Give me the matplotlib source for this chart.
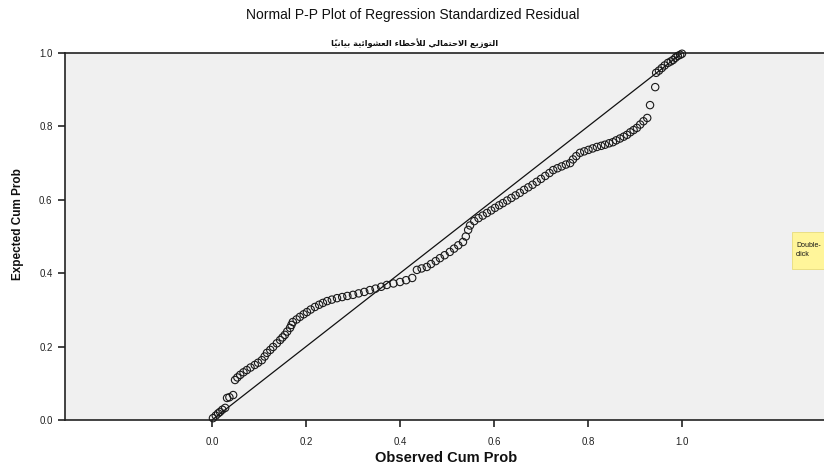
import matplotlib
matplotlib.use("Agg")
import matplotlib.pyplot as plt
from matplotlib.patches import Rectangle

# ---------------- data ----------------
title = "Normal P-P Plot of Regression Standardized Residual"
subtitle = "التوزيع الاحتمالي للأخطاء العشوائية بيانياً"
x_label = "Observed Cum Prob"
y_label = "Expected Cum Prob"
tick_values = [0.0, 0.2, 0.4, 0.6, 0.8, 1.0]
tick_labels = ["0.0", "0.2", "0.4", "0.6", "0.8", "1.0"]
ref_line_x = [0.0, 1.0]
ref_line_y = [0.0, 1.0]
note_text = "Double-\nclick"

observed = [0.002, 0.008, 0.013, 0.017, 0.022, 0.028, 0.032, 0.037, 0.045,
            0.049, 0.054, 0.060, 0.067, 0.074, 0.082, 0.091, 0.098, 0.106,
            0.112, 0.117, 0.124, 0.130, 0.138, 0.145, 0.150, 0.155, 0.160,
            0.166, 0.169, 0.172, 0.180, 0.187, 0.195, 0.202, 0.210, 0.219,
            0.228, 0.236, 0.245, 0.255, 0.266, 0.277, 0.288, 0.300, 0.312,
            0.324, 0.336, 0.348, 0.360, 0.372, 0.386, 0.400, 0.413, 0.426,
            0.436, 0.446, 0.457, 0.466, 0.476, 0.485, 0.495, 0.506, 0.515,
            0.524, 0.534, 0.540, 0.545, 0.549, 0.558, 0.567, 0.576, 0.585,
            0.594, 0.602, 0.611, 0.619, 0.628, 0.637, 0.646, 0.655, 0.664,
            0.673, 0.682, 0.691, 0.700, 0.709, 0.718, 0.726, 0.735, 0.744,
            0.753, 0.762, 0.768, 0.775, 0.783, 0.792, 0.801, 0.810, 0.819,
            0.828, 0.836, 0.845, 0.853, 0.860, 0.868, 0.876, 0.883, 0.890,
            0.897, 0.904, 0.911, 0.918, 0.926, 0.932, 0.943, 0.945, 0.951,
            0.957, 0.963, 0.970, 0.976, 0.981, 0.986, 0.991, 0.996, 1.000]
expected = [0.005, 0.012, 0.018, 0.022, 0.028, 0.033, 0.060, 0.062, 0.068,
            0.109, 0.116, 0.123, 0.130, 0.136, 0.143, 0.150, 0.156, 0.163,
            0.173, 0.183, 0.191, 0.199, 0.209, 0.218, 0.225, 0.232, 0.241,
            0.251, 0.259, 0.267, 0.274, 0.281, 0.288, 0.294, 0.301, 0.308,
            0.314, 0.319, 0.324, 0.328, 0.332, 0.335, 0.338, 0.341, 0.345,
            0.349, 0.354, 0.358, 0.363, 0.368, 0.372, 0.376, 0.381, 0.387,
            0.409, 0.413, 0.417, 0.425, 0.433, 0.441, 0.449, 0.458, 0.467,
            0.476, 0.485, 0.500, 0.518, 0.530, 0.542, 0.550, 0.557, 0.564,
            0.571, 0.578, 0.585, 0.591, 0.598, 0.605, 0.612, 0.619, 0.627,
            0.634, 0.641, 0.649, 0.657, 0.665, 0.673, 0.681, 0.686, 0.691,
            0.696, 0.700, 0.710, 0.719, 0.728, 0.732, 0.736, 0.740, 0.744,
            0.747, 0.750, 0.754, 0.757, 0.762, 0.767, 0.772, 0.777, 0.784,
            0.790, 0.796, 0.805, 0.814, 0.823, 0.858, 0.907, 0.946, 0.952,
            0.959, 0.966, 0.973, 0.977, 0.981, 0.987, 0.992, 0.995, 0.998]


# ---------------- minimal Arabic shaping (presentation forms + RTL) ----------------
FORMS = {  # isolated, final, initial, medial
    "\u0627": ("\uFE8D", "\uFE8E", None, None),
    "\u0623": ("\uFE83", "\uFE84", None, None),
    "\u0644": ("\uFEDD", "\uFEDE", "\uFEDF", "\uFEE0"),
    "\u062A": ("\uFE95", "\uFE96", "\uFE97", "\uFE98"),
    "\u0648": ("\uFEED", "\uFEEE", None, None),
    "\u0632": ("\uFEAF", "\uFEB0", None, None),
    "\u064A": ("\uFEF1", "\uFEF2", "\uFEF3", "\uFEF4"),
    "\u0639": ("\uFEC9", "\uFECA", "\uFECB", "\uFECC"),
    "\u062D": ("\uFEA1", "\uFEA2", "\uFEA3", "\uFEA4"),
    "\u0645": ("\uFEE1", "\uFEE2", "\uFEE3", "\uFEE4"),
    "\u062E": ("\uFEA5", "\uFEA6", "\uFEA7", "\uFEA8"),
    "\u0637": ("\uFEC1", "\uFEC2", "\uFEC3", "\uFEC4"),
    "\u0621": ("\uFE80", None, None, None),
    "\u0634": ("\uFEB5", "\uFEB6", "\uFEB7", "\uFEB8"),
    "\u0626": ("\uFE89", "\uFE8A", "\uFE8B", "\uFE8C"),
    "\u0629": ("\uFE93", "\uFE94", None, None),
    "\u0628": ("\uFE8F", "\uFE90", "\uFE91", "\uFE92"),
    "\u0646": ("\uFEE5", "\uFEE6", "\uFEE7", "\uFEE8"),
}
LAMALEF = {"\u0627": ("\uFEFB", "\uFEFC"), "\u0623": ("\uFEF7", "\uFEF8")}
MARKS = {"\u064B", "\u064E", "\u064F", "\u0650", "\u0651", "\u0652"}


def shape_arabic(text):
    clusters = []
    for ch in text:
        if ch in MARKS and clusters:
            clusters[-1][1].append(ch)
        else:
            clusters.append([ch, []])
    merged = []
    i = 0
    while i < len(clusters):
        c = clusters[i]
        if c[0] == "\u0644" and i + 1 < len(clusters) and clusters[i + 1][0] in LAMALEF:
            merged.append(["LA" + clusters[i + 1][0], c[1] + clusters[i + 1][1]])
            i += 2
        else:
            merged.append(c)
            i += 1

    def joins_forward(ch):
        if ch.startswith("LA"):
            return False
        f = FORMS.get(ch)
        return bool(f and f[2])

    def joins_back(ch):
        if ch.startswith("LA"):
            return True
        f = FORMS.get(ch)
        return bool(f and f[1])

    out = []
    for k, (ch, marks) in enumerate(merged):
        prev = merged[k - 1][0] if k > 0 else None
        nxt = merged[k + 1][0] if k + 1 < len(merged) else None
        cp = prev is not None and joins_forward(prev) and joins_back(ch)
        cn = nxt is not None and joins_forward(ch) and joins_back(nxt)
        if ch.startswith("LA"):
            g = LAMALEF[ch[2:]][1 if cp else 0]
        elif ch in FORMS:
            iso, fin, ini, med = FORMS[ch]
            if cp and cn:
                g = med
            elif cp:
                g = fin
            elif cn:
                g = ini
            else:
                g = iso
        else:
            g = ch
        out.append(g + "".join(marks))
    return "".join(reversed(out))


# ---------------- figure ----------------
W, H = 824, 468
fig = plt.figure(figsize=(W / 100, H / 100), dpi=100)
fig.patch.set_facecolor("white")

ax_left, ax_right, ax_bottom, ax_top = 65, 824, 420, 53
ax = fig.add_axes([ax_left / W, 1 - ax_bottom / H,
                   (ax_right - ax_left) / W, (ax_bottom - ax_top) / H])
ax.set_facecolor("#f0f0f0")

x0_px, x1_px = 212, 682
ppu = x1_px - x0_px
ax.set_xlim((ax_left - x0_px) / ppu, (ax_right - x0_px) / ppu)
ax.set_ylim(0, 1)

ax.plot(ref_line_x, ref_line_y, color="#111111", linewidth=0.9, zorder=2)
ax.scatter(observed, expected, s=28, facecolors="none", edgecolors="#1a1a1a",
           linewidths=0.8, zorder=3, clip_on=False)

for side in ("left", "top", "bottom"):
    ax.spines[side].set_color("#222222")
    ax.spines[side].set_linewidth(1.2)
ax.spines["right"].set_visible(False)

lab_font = "Liberation Sans"
ax.set_xticks(tick_values)
ax.set_xticklabels(tick_labels, fontsize=7, family=lab_font, color="#222222")
ax.set_yticks(tick_values)
ax.set_yticklabels(tick_labels, fontsize=7, family=lab_font, color="#222222")
ax.tick_params(axis="both", direction="out", length=5, width=1.2, color="#222222", pad=4)
ax.tick_params(axis="x", pad=7)

ax.set_xlabel(x_label, fontsize=10.5, fontweight="bold", family=lab_font, color="#111111")
ax.xaxis.set_label_coords((446 - ax_left) / (ax_right - ax_left), (ax_bottom - 458) / (ax_bottom - ax_top))
ax.xaxis.label.set_va("center")
ax.set_ylabel(y_label, fontsize=8.5, fontweight="bold", family=lab_font, color="#111111")
ax.yaxis.set_label_coords((18 - ax_left) / (ax_right - ax_left), (ax_bottom - 224) / (ax_bottom - ax_top))
ax.yaxis.label.set_va("center")

fig.text(413 / W, 1 - 15 / H, title, ha="center", va="center", fontsize=10,
         family=lab_font, color="#111111")
fig.text(415 / W, 1 - 43 / H, shape_arabic(subtitle), ha="center", va="center",
         fontsize=6, fontweight="bold", family="DejaVu Sans", color="#111111")

# yellow note box at right edge (partially cut off in the reference)
fig.patches.append(Rectangle((792 / W, 1 - 269 / H), 60 / W, 37 / H,
                             transform=fig.transFigure, facecolor="#fff59a",
                             edgecolor="#e8dc7a", linewidth=0.6, zorder=5))
fig.text(796 / W, 1 - 250 / H, note_text, ha="left", va="center", fontsize=5,
         family=lab_font, color="#111111", zorder=6, linespacing=1.3)

fig.savefig("out.png", dpi=100)
